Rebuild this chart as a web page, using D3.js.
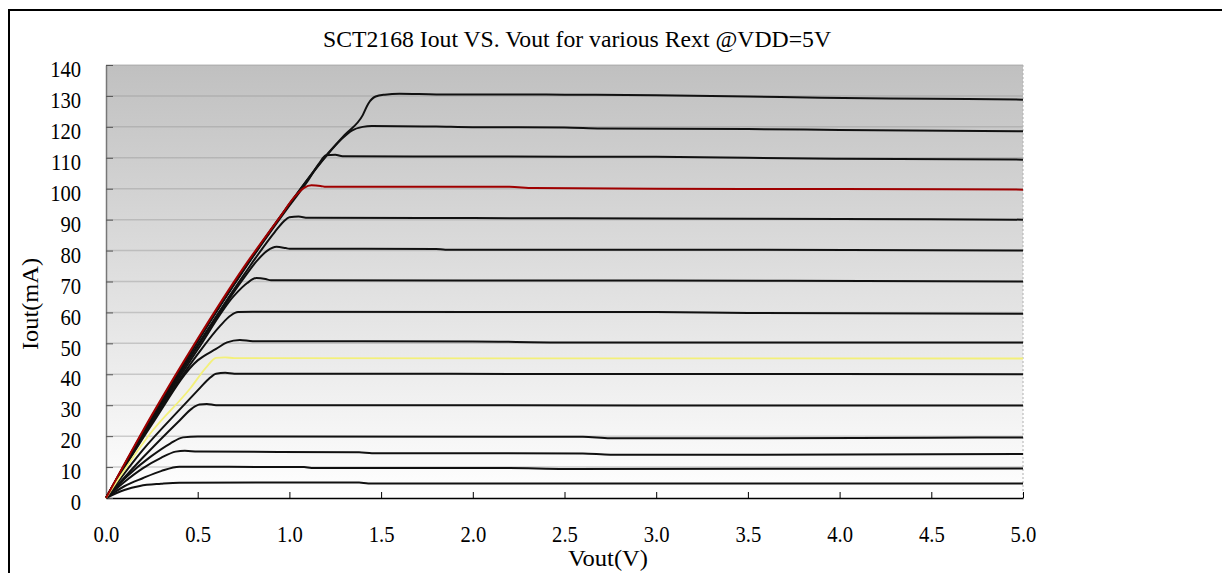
<!DOCTYPE html>
<html>
<head>
<meta charset="utf-8">
<script src="https://cdn.jsdelivr.net/npm/d3@7/dist/d3.min.js"></script>
<style>
  body { margin: 0; background: #fff; }
  svg { display: block; }
  text { font-family: "Liberation Serif", "Times New Roman", serif; fill: #000; }
</style>
</head>
<body>
<script>
const width = 1222;
const height = 573;

const xTicks = [0, 0.5, 1.0, 1.5, 2.0, 2.5, 3.0, 3.5, 4.0, 4.5, 5.0];
const yTicks = [0, 10, 20, 30, 40, 50, 60, 70, 80, 90, 100, 110, 120, 130, 140];

// [Vout (V), Iout (mA)], one array per Rext setting
const iout5 = [[0,0],[0.1,2.6],[0.185,3.9],[0.3,4.6],[0.4,4.95],[1.38,5.0],[1.43,4.7],[5.0,4.7]];
const iout10 = [[0,0],[0.1,3.8],[0.2,6.4],[0.3,8.7],[0.4,10.1],[1.08,10.0],[1.12,9.7],[2.2,9.7],[2.5,9.4],[5.0,9.5]];
const iout15 = [[0,0],[0.1,5.2],[0.2,9.6],[0.3,13.0],[0.38,15.0],[0.43,15.3],[0.5,15.0],[1.38,14.8],[1.45,14.5],[2.6,14.4],[2.75,14.0],[3.5,14.0],[5.0,14.2]];
const iout20 = [[0,0],[0.12,7.3],[0.24,13.2],[0.35,17.6],[0.42,19.6],[0.5,19.9],[2.6,19.8],[2.75,19.3],[3.5,19.3],[4.5,19.5],[5.0,19.6]];
const iout30 = [[0,0],[0.2,13.0],[0.4,25.0],[0.47,29.0],[0.51,30.2],[0.55,30.4],[0.6,30.0],[5.0,29.9]];
const iout40 = [[0,0],[0.2,15.5],[0.4,28.5],[0.5,34.8],[0.56,38.5],[0.6,40.2],[0.65,40.5],[0.7,40.2],[3.0,40.1],[5.0,40.0]];
const iout45 = [[0,0],[0.25,21.5],[0.46,35.5],[0.55,42.5],[0.6,45.3],[0.65,45.5],[0.7,45.2],[5.0,45.1]];
const iout50 = [[0,0],[0.25,23.8],[0.5,44.5],[0.6,48.2],[0.66,50.3],[0.73,51.1],[0.8,50.7],[2.0,50.6],[2.5,50.3],[5.0,50.3]];
const iout60 = [[0,0],[0.25,24.5],[0.5,46.5],[0.62,55.5],[0.68,59.0],[0.72,60.1],[0.8,60.2],[3.0,60.1],[3.5,59.8],[5.0,59.6]];
const iout70 = [[0,0],[0.25,25.0],[0.5,48.0],[0.7,65.5],[0.77,69.5],[0.82,71.1],[0.87,70.8],[0.9,70.4],[3.0,70.3],[5.0,70.0]];
const iout80 = [[0,0],[0.25,25.5],[0.5,49.0],[0.75,71.0],[0.82,76.5],[0.88,80.0],[0.93,81.2],[0.98,80.8],[1.0,80.6],[1.8,80.5],[1.85,80.3],[3.0,80.3],[5.0,80.0]];
const iout90 = [[0,0],[0.25,25.8],[0.5,49.5],[0.75,72.0],[0.92,86.0],[0.97,89.5],[1.0,90.8],[1.05,91.0],[1.1,90.6],[2.0,90.5],[3.0,90.4],[4.0,90.2],[5.0,90.0]];
const iout100 = [[0,0],[0.25,26.8],[0.5,51.5],[0.75,74.5],[0.95,91.0],[1.03,97.5],[1.08,100.3],[1.12,101.1],[1.17,100.9],[1.2,100.6],[2.2,100.6],[2.33,100.2],[3.0,100.0],[4.0,99.9],[5.0,99.7]];
const iout110 = [[0,0],[0.25,26.3],[0.5,50.8],[0.75,73.6],[1.0,94.5],[1.1,102.5],[1.16,108.0],[1.2,110.8],[1.25,111.0],[1.29,110.5],[2.0,110.4],[3.0,110.3],[3.5,110.0],[4.0,109.7],[5.0,109.4]];
const iout120 = [[0,0],[0.25,26.3],[0.5,50.8],[0.75,73.8],[1.0,95.0],[1.2,110.5],[1.28,115.8],[1.34,118.8],[1.4,120.0],[1.45,120.3],[1.8,120.1],[2.0,119.9],[2.5,119.8],[2.7,119.5],[3.5,119.3],[4.0,119.0],[5.0,118.6]];
const iout130 = [[0,0],[0.25,26.3],[0.5,50.8],[0.75,73.8],[1.0,95.0],[1.2,110.7],[1.3,117.3],[1.4,123.8],[1.43,127.5],[1.47,129.8],[1.52,130.4],[1.6,130.7],[1.8,130.5],[2.5,130.4],[3.0,130.2],[3.5,129.8],[3.9,129.4],[4.5,129.1],[5.0,128.8]];

const blackSeries = [iout5, iout10, iout15, iout20, iout30, iout40, iout50, iout60, iout70, iout80, iout90, iout110, iout120, iout130];

const x_range = [106, 1023];
const y_range = [498, 65];
const squeeze = "scale(0.86,1)"; // the original font is a narrow Times-like face

let svg = d3.select("body")
    .append("svg")
    .attr("width", width)
    .attr("height", height);

let xScale = d3.scaleLinear().domain([0, 5]).range(x_range);
let yScale = d3.scaleLinear().domain([0, 140]).range(y_range);

// outer chart frame (runs off the right and bottom of the picture)
svg.append("rect")
    .attr("x", 9).attr("y", 10)
    .attr("width", 1400).attr("height", 800)
    .attr("fill", "white")
    .attr("stroke", "black")
    .attr("stroke-width", 2);

// plot background gradient
let grad = svg.append("defs").append("linearGradient")
    .attr("id", "bg")
    .attr("x1", 0).attr("y1", 0).attr("x2", 0).attr("y2", 1);
grad.append("stop").attr("offset", "0%").attr("stop-color", "#c0c0c0");
grad.append("stop").attr("offset", "100%").attr("stop-color", "#ffffff");

svg.append("rect")
    .attr("x", x_range[0]).attr("y", y_range[1])
    .attr("width", x_range[1] - x_range[0])
    .attr("height", y_range[0] - y_range[1])
    .attr("fill", "url(#bg)");

// horizontal gridlines
svg.selectAll(".grid")
    .data(yTicks.slice(1))
    .enter()
    .append("line")
    .attr("class", "grid")
    .attr("x1", x_range[0]).attr("x2", x_range[1])
    .attr("y1", d => yScale(d)).attr("y2", d => yScale(d))
    .attr("stroke", "#9a9a9a")
    .attr("stroke-opacity", 0.45)
    .attr("stroke-width", 1.5);

// dotted right edge
svg.append("line")
    .attr("x1", x_range[1]).attr("x2", x_range[1])
    .attr("y1", y_range[1]).attr("y2", y_range[0])
    .attr("stroke", "#b0b0b0")
    .attr("stroke-dasharray", "2,2");

// axes
let x_axis = d3.axisBottom(xScale)
    .tickValues(xTicks)
    .tickFormat(d3.format(".1f"))
    .tickSizeInner(-6).tickSizeOuter(0)
    .tickPadding(27);

let xg = svg.append("g")
    .attr("transform", `translate(0, ${y_range[0]})`)
    .call(x_axis);
xg.select(".domain").attr("stroke", "black").attr("stroke-width", 1.5);
xg.selectAll(".tick line").attr("stroke", "black");
xg.selectAll(".tick text")
    .attr("font-family", "Liberation Serif")
    .attr("font-size", 24)
    .attr("transform", squeeze);

let y_axis = d3.axisLeft(yScale)
    .tickValues(yTicks)
    .tickSizeInner(-7).tickSizeOuter(0)
    .tickPadding(29);

let yg = svg.append("g")
    .attr("transform", `translate(${x_range[0]}, 0)`)
    .call(y_axis);
yg.select(".domain").attr("stroke", "#777").attr("stroke-width", 1.5);
yg.selectAll(".tick line").attr("stroke", "#555");
yg.selectAll(".tick text")
    .attr("font-family", "Liberation Serif")
    .attr("font-size", 24)
    .attr("y", 4)
    .attr("transform", squeeze);

// curves
let line = d3.line()
    .x(d => xScale(d[0]))
    .y(d => yScale(d[1]))
    .curve(d3.curveMonotoneX);

svg.selectAll(".curve")
    .data(blackSeries)
    .enter()
    .append("path")
    .attr("class", "curve")
    .attr("d", line)
    .attr("fill", "none")
    .attr("stroke", "#111")
    .attr("stroke-width", 2);

svg.append("path")
    .attr("d", line(iout45))
    .attr("fill", "none")
    .attr("stroke", "#f3f07a")
    .attr("stroke-width", 1.8);

svg.append("path")
    .attr("d", line(iout100))
    .attr("fill", "none")
    .attr("stroke", "#a00000")
    .attr("stroke-width", 2);

// titles
svg.append("text")
    .attr("text-anchor", "middle")
    .attr("x", 577)
    .attr("y", 47)
    .attr("font-size", 24)
    .attr("textLength", 508)
    .attr("lengthAdjust", "spacingAndGlyphs")
    .text("SCT2168 Iout VS. Vout for various Rext @VDD=5V");

svg.append("text")
    .attr("text-anchor", "middle")
    .attr("x", 608)
    .attr("y", 566)
    .attr("font-size", 24)
    .attr("textLength", 80)
    .attr("lengthAdjust", "spacingAndGlyphs")
    .text("Vout(V)");

svg.append("text")
    .attr("text-anchor", "middle")
    .attr("transform", "translate(38, 304) rotate(-90)")
    .attr("font-size", 24)
    .attr("textLength", 92)
    .attr("lengthAdjust", "spacingAndGlyphs")
    .text("Iout(mA)");
</script>
</body>
</html>
